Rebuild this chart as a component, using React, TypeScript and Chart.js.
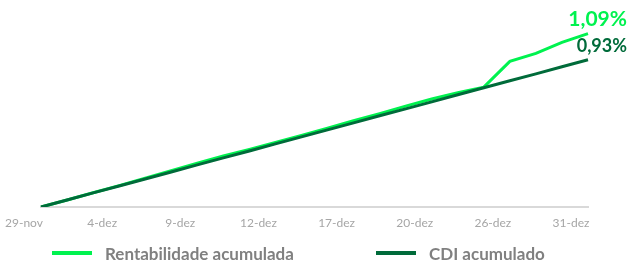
import React, { useEffect, useRef } from "react";
import { Chart, registerables } from "chart.js";

Chart.register(...registerables);

const categories = [
  "29-nov", "2-dez", "3-dez", "4-dez", "5-dez", "6-dez", "9-dez", "10-dez",
  "11-dez", "12-dez", "13-dez", "16-dez", "17-dez", "18-dez", "19-dez", "20-dez",
  "23-dez", "24-dez", "26-dez", "27-dez", "30-dez", "31-dez",
];
const rentabilidade = [
  0, 0.044, 0.09, 0.135, 0.182, 0.23, 0.277, 0.322, 0.364, 0.407, 0.452, 0.497,
  0.545, 0.59, 0.637, 0.682, 0.722, 0.757, 0.92, 0.97, 1.04, 1.095,
];
const cdi = [
  0, 0.044, 0.089, 0.133, 0.177, 0.221, 0.266, 0.31, 0.354, 0.399, 0.443, 0.487,
  0.531, 0.576, 0.62, 0.664, 0.709, 0.753, 0.797, 0.841, 0.886, 0.93,
];
const endLabels = ["1,09%", "0,93%"];
const seriesNames = ["Rentabilidade acumulada", "CDI acumulado"];

const GREEN = "#00F24F";
const DARK = "#006B3A";
const FONT = "Lato, 'Open Sans', sans-serif";

const endLabelPlugin = {
  id: "endLabels",
  afterDatasetsDraw(chart: any) {
    const ctx = chart.ctx;
    const specs = [
      { ds: 0, color: GREEN, size: 21, dy: -8 },
      { ds: 1, color: DARK, size: 18, dy: -8 },
    ];
    ctx.save();
    specs.forEach((s) => {
      const meta = chart.getDatasetMeta(s.ds);
      const pt = meta.data[meta.data.length - 1];
      ctx.font = `bold ${s.size}px ${FONT}`;
      ctx.fillStyle = s.color;
      ctx.textAlign = "right";
      ctx.textBaseline = "alphabetic";
      ctx.fillText(endLabels[s.ds], pt.x + 39, pt.y + s.dy);
    });
    ctx.restore();
  },
};

export default function App() {
  const ref = useRef<HTMLCanvasElement | null>(null);
  useEffect(() => {
    if (!ref.current) return;
    const chart = new Chart(ref.current, {
      type: "line",
      data: {
        labels: categories,
        datasets: [
          {
            label: seriesNames[0],
            data: rentabilidade,
            borderColor: GREEN,
            backgroundColor: GREEN,
            borderWidth: 3,
            pointRadius: 0,
            tension: 0,
            order: 1,
          },
          {
            label: seriesNames[1],
            data: cdi,
            borderColor: DARK,
            backgroundColor: DARK,
            borderWidth: 3,
            pointRadius: 0,
            tension: 0,
            order: 0,
          },
        ],
      },
      options: {
        animation: false,
        responsive: false,
        maintainAspectRatio: false,
        layout: { padding: { left: 41, right: 41, top: 17, bottom: 24 } },
        plugins: { legend: { display: false }, tooltip: { enabled: false } },
        scales: {
          x: {
            grid: { display: false, drawTicks: false },
            border: { display: true, color: "#D9D9D9", width: 2 },
            afterFit: (scale: any) => {
              scale.height = 30;
            },
            ticks: {
              autoSkip: false,
              maxRotation: 0,
              padding: 9,
              labelOffset: -17,
              color: "#A6A6A6",
              font: { family: FONT, size: 12 },
              callback: (_v: any, i: number) => (i % 3 === 0 ? categories[i] : ""),
            },
          },
          y: { display: false, min: 0, max: 1.2 },
        },
      },
      plugins: [endLabelPlugin],
    });
    return () => chart.destroy();
  }, []);

  const legendItem = (color: string, text: string, left: number) => (
    <div
      style={{
        position: "absolute",
        left,
        top: 243,
        height: 20,
        display: "flex",
        alignItems: "center",
      }}
    >
      <div style={{ width: 40, height: 4, background: color, marginRight: 13 }} />
      <span
        style={{
          fontFamily: FONT,
          fontWeight: 700,
          fontSize: 17,
          color: "#808080",
          whiteSpace: "nowrap",
        }}
      >
        {text}
      </span>
    </div>
  );

  return (
    <div style={{ position: "fixed", left: 0, top: 0, width: 629, height: 261, background: "#fff" }}>
      <canvas ref={ref} width={629} height={261} style={{ position: "absolute", left: 0, top: 0 }} />
      {legendItem(GREEN, seriesNames[0], 52)}
      {legendItem(DARK, seriesNames[1], 376)}
    </div>
  );
}
